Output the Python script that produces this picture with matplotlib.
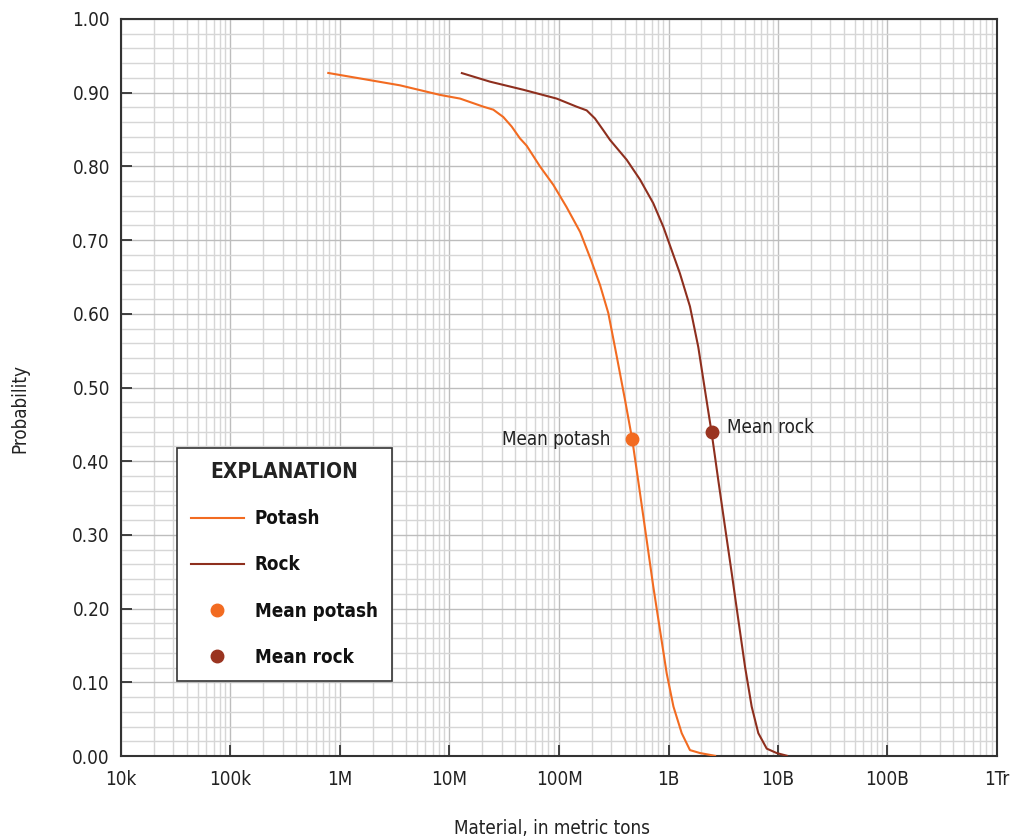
import matplotlib
matplotlib.use("Agg")
import matplotlib.pyplot as plt
import matplotlib.ticker as mticker
from matplotlib.lines import Line2D
import numpy as np

plt.rcParams['font.family'] = ['Liberation Sans Narrow', 'DejaVu Sans']
plt.rcParams['font.stretch'] = 'condensed'

# ---- data ----
potash_tons = [7.65e5, 3.53e6, 8.19e6, 1.25e7, 2.04e7, 2.51e7, 3.10e7, 3.70e7, 4.40e7,
               5.07e7, 6.70e7, 8.87e7, 1.17e8, 1.56e8, 1.96e8, 2.37e8, 2.82e8, 3.37e8,
               4.01e8, 4.67e8, 5.50e8, 6.32e8, 7.26e8, 8.36e8, 9.63e8, 1.11e9, 1.32e9,
               1.57e9, 1.94e9, 2.72e9]
potash_prob = [0.927, 0.910, 0.897, 0.892, 0.881, 0.877, 0.867, 0.854, 0.838,
               0.828, 0.800, 0.775, 0.745, 0.711, 0.673, 0.639, 0.601, 0.542,
               0.483, 0.429, 0.356, 0.293, 0.230, 0.171, 0.112, 0.067, 0.031,
               0.008, 0.004, 0.0]
rock_tons = [1.27e7, 2.34e7, 4.72e7, 9.53e7, 1.45e8, 1.79e8, 2.13e8, 2.54e8, 2.92e8,
             4.15e8, 5.50e8, 7.26e8, 8.97e8, 1.15e9, 1.27e9, 1.57e9, 1.87e9, 2.15e9,
             2.48e9, 2.85e9, 3.28e9, 3.78e9, 4.34e9, 5.00e9, 5.75e9, 6.61e9, 7.89e9,
             9.73e9, 1.23e10]
rock_prob = [0.927, 0.915, 0.904, 0.892, 0.881, 0.876, 0.865, 0.849, 0.836,
             0.809, 0.782, 0.750, 0.718, 0.673, 0.655, 0.610, 0.555, 0.497,
             0.438, 0.374, 0.311, 0.248, 0.185, 0.121, 0.067, 0.031, 0.010,
             0.004, 0.0]
mean_potash = (4.67e8, 0.43)
mean_rock = (2.48e9, 0.44)

x_ticks = [1e4, 1e5, 1e6, 1e7, 1e8, 1e9, 1e10, 1e11, 1e12]
x_tick_labels = ['10k', '100k', '1M', '10M', '100M', '1B', '10B', '100B', '1Tr']
y_ticks = [0.0, 0.1, 0.2, 0.3, 0.4, 0.5, 0.6, 0.7, 0.8, 0.9, 1.0]

c_potash = '#F26B21'
c_rock = '#8E2F1E'
c_mean_potash = '#F26B21'
c_mean_rock = '#9A3420'

fig = plt.figure(figsize=(10.12, 8.4), dpi=100)
ax = fig.add_axes([121/1012, 84/840, (997-121)/1012, (756-19)/840])

ax.plot(potash_tons, potash_prob, color=c_potash, lw=1.5, zorder=3,
        solid_joinstyle='round', solid_capstyle='butt')
ax.plot(rock_tons, rock_prob, color=c_rock, lw=1.5, zorder=3,
        solid_joinstyle='round', solid_capstyle='butt')
ax.plot([mean_potash[0]], [mean_potash[1]], 'o', color=c_mean_potash, ms=9, zorder=4)
ax.plot([mean_rock[0]], [mean_rock[1]], 'o', color=c_mean_rock, ms=9, zorder=4)

ax.annotate('Mean potash', xy=mean_potash, xytext=(-16, 0), textcoords='offset points',
            ha='right', va='center', fontsize=13.5, color='#222222')
ax.annotate('Mean rock', xy=mean_rock, xytext=(11, 3), textcoords='offset points',
            ha='left', va='center', fontsize=13.5, color='#222222')

ax.set_xscale('log')
ax.set_xlim(1e4, 1e12)
ax.set_ylim(0, 1.0)
ax.set_xticks(x_ticks)
ax.set_xticklabels(x_tick_labels)
ax.xaxis.set_minor_locator(mticker.LogLocator(base=10, subs=np.arange(2, 10), numticks=100))
ax.xaxis.set_minor_formatter(mticker.NullFormatter())
ax.set_yticks(y_ticks)
ax.yaxis.set_major_formatter(mticker.FormatStrFormatter('%.2f'))
ax.yaxis.set_minor_locator(mticker.MultipleLocator(0.02))

ax.grid(True, which='major', color='#bdbdbd', lw=1.0, zorder=0)
ax.grid(True, which='minor', color='#d6d6d6', lw=1.0, zorder=0)
ax.set_axisbelow(True)

ax.tick_params(axis='both', which='major', direction='in', length=8, width=1.3,
               color='#333333', labelsize=13.5, labelcolor='#222222')
ax.tick_params(axis='x', which='major', pad=10)
ax.tick_params(axis='y', which='major', pad=8)
ax.tick_params(which='minor', length=0)
for s in ax.spines.values():
    s.set_color('#333333')
    s.set_linewidth(1.5)

fig.text(552/1012, 1 - 828/840, 'Material, in metric tons', ha='center', va='center',
         fontsize=13.5, color='#222222')
fig.text(20/1012, 1 - 408/840, 'Probability', ha='center', va='center', rotation=90,
         fontsize=13.5, color='#222222')

handles = [
    Line2D([0], [0], color=c_potash, lw=1.5),
    Line2D([0], [0], color=c_rock, lw=1.5),
    Line2D([0], [0], marker='o', color='none', markerfacecolor=c_mean_potash,
           markeredgecolor=c_mean_potash, ms=9, lw=0),
    Line2D([0], [0], marker='o', color='none', markerfacecolor=c_mean_rock,
           markeredgecolor=c_mean_rock, ms=9, lw=0),
]
labels = ['Potash', 'Rock', 'Mean potash', 'Mean rock']
leg = ax.legend(handles, labels, title='EXPLANATION', loc='upper left',
                bbox_to_anchor=((177-121)/876, (756-448)/737), borderaxespad=0,
                frameon=True, fancybox=False, edgecolor='#333333', framealpha=1.0,
                prop={'size': 13.5, 'weight': 'bold'}, handlelength=2.8,
                labelspacing=1.45, borderpad=0.75, handletextpad=0.6,
                title_fontproperties={'size': 15, 'weight': 'bold'})
leg.get_frame().set_linewidth(1.2)
leg.get_title().set_color('#222222')
for t in leg.get_texts():
    t.set_color('#111111')

fig.savefig('out.png', dpi=100)
